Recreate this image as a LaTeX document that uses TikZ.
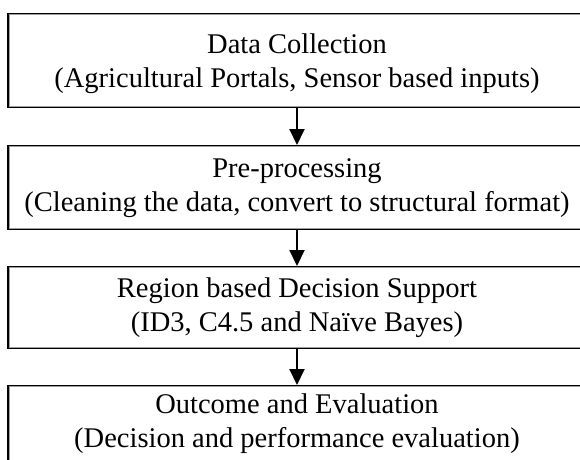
\documentclass[tikz,border=0pt]{standalone}
\usepackage{fontspec}
\setmainfont{Liberation Serif}
\usetikzlibrary{arrows.meta}
\begin{document}
\begin{tikzpicture}[x=1pt,y=1pt,
  box/.style={draw=black, line width=1.3pt, minimum width=578pt, inner sep=0pt,
    align=center, font=\fontsize{28.5}{34}\selectfont, anchor=north},
  inner/.style={draw=gray!75, line width=1pt},
  conn/.style={line width=2pt, -{Triangle[width=15pt,length=16pt]}}]
\clip (0,0) rectangle (580,-459);
\fill[white] (0,0) rectangle (580,-459);
\node[box, minimum height=94pt, text depth=0pt] (b1) at (297,-13) {Data Collection\\(Agricultural Portals, Sensor based inputs)};
\node[box, minimum height=84pt] (b2) at (297,-145) {Pre-processing\\(Cleaning the data, convert to structural format)};
\node[box, minimum height=82pt] (b3) at (297,-266) {Region based Decision Support\\(ID3, C4.5 and Naïve Bayes)};
\node[box, minimum height=76pt] (b4) at (297,-385) {Outcome and Evaluation\\(Decision and performance evaluation)};
\foreach \n in {b1,b2,b3,b4}
  \draw[inner] ([shift={(1.7,-1.7)}]\n.north west) rectangle ([shift={(-1.7,1.7)}]\n.south east);
\draw[conn] (b1.south) -- (b2.north);
\draw[conn] (b2.south) -- (b3.north);
\draw[conn] (b3.south) -- (b4.north);
\end{tikzpicture}
\end{document}
